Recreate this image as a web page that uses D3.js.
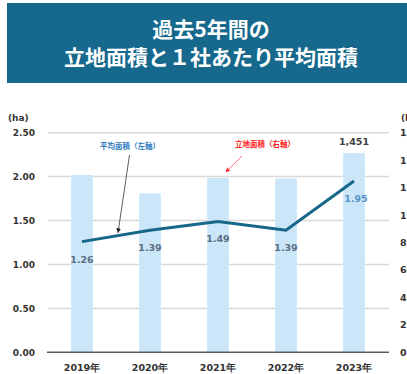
<html>
<head>
    <meta charset="utf-8">
    <style>
        body {
            margin: 0;
            background: white;
        }
        svg {
            display: block;
        }
        .tick-label {
            font-family: "DejaVu Sans", Verdana, sans-serif;
            font-weight: bold;
            font-size: 9px;
            fill: #333333;
        }
        .jp {
            font-family: "Noto Sans CJK JP", sans-serif;
        }
    </style>
    <script src="https://cdn.jsdelivr.net/npm/d3@7"></script>
</head>
<body>
    <svg id="chart"></svg>
</body>
<script>
    // data
    let titleLines = ["過去5年間の", "立地面積と１社あたり平均面積"]
    let years = ["2019年", "2020年", "2021年", "2022年", "2023年"]
    let siteArea = [1292, 1158, 1270, 1266, 1451]      // 立地面積 (右軸, ha)
    let avgArea = [1.26, 1.39, 1.49, 1.39, 1.95]        // 平均面積 (左軸, ha)
    let leftTicks = [0, 0.5, 1.0, 1.5, 2.0, 2.5]
    let rightTicks = [0, 200, 400, 600, 800, 1000, 1200, 1400, 1600]
    let avgLabel = "平均面積（左軸）"
    let siteLabel = "立地面積（右軸）"

    let width = 407
    let height = 374
    let margin = { top: 132.7, bottom: 21.7, left: 48, right: 19 }

    let svg = d3.select("#chart")
        .attr("width", width)
        .attr("height", height)

    // title box
    svg.append("rect")
        .attr("x", 7).attr("y", 3)
        .attr("width", 400).attr("height", 80)
        .attr("fill", "#16698d")
    svg.append("text")
        .attr("class", "jp")
        .attr("text-anchor", "middle")
        .attr("fill", "white")
        .style("font-size", "21px")
        .style("font-weight", "bold")
        .selectAll("tspan").data(titleLines).enter().append("tspan")
        .attr("x", 211)
        .attr("y", (d, i) => 37 + i * 28)
        .text(d => d)

    let x = d3.scaleBand()
        .domain(years)
        .range([margin.left, width - margin.right])
        .paddingInner(0.68)
        .paddingOuter(0.34)
    let yLeft = d3.scaleLinear().domain([0, 2.5]).range([height - margin.bottom, margin.top])
    let yRight = d3.scaleLinear().domain([0, 1600]).range([height - margin.bottom, margin.top])

    // gridlines
    svg.append("g")
        .selectAll("line").data(leftTicks.slice(1)).enter().append("line")
        .attr("x1", margin.left).attr("x2", width - margin.right + 1)
        .attr("y1", d => yLeft(d)).attr("y2", d => yLeft(d))
        .attr("stroke", "#d9d9d9")
        .attr("stroke-width", 1.5)

    // bars
    svg.append("g")
        .selectAll("rect").data(siteArea).enter().append("rect")
        .attr("x", (d, i) => x(years[i]))
        .attr("width", x.bandwidth())
        .attr("y", d => yRight(d))
        .attr("height", d => yRight(0) - yRight(d))
        .attr("fill", "#cbe6f8")

    // baseline
    svg.append("line")
        .attr("x1", margin.left - 1).attr("x2", width - margin.right + 1)
        .attr("y1", yLeft(0)).attr("y2", yLeft(0))
        .attr("stroke", "#5a5a5a")
        .attr("stroke-width", 1.5)

    // left axis
    let axisL = d3.axisLeft(yLeft).tickValues(leftTicks).tickFormat(d3.format(".2f")).tickSize(0).tickPadding(13)
    let gL = svg.append("g")
        .attr("transform", `translate(${margin.left},0)`)
        .call(axisL)
    gL.select(".domain").remove()
    gL.selectAll("text").attr("class", "tick-label").attr("fill", null)

    // right axis (cut off by the picture edge, as in the original)
    let axisR = d3.axisRight(yRight).tickValues(rightTicks).tickFormat(d3.format(",")).tickSize(0).tickPadding(12)
    let gR = svg.append("g")
        .attr("transform", `translate(${width - margin.right},0)`)
        .call(axisR)
    gR.select(".domain").remove()
    gR.selectAll("text").attr("class", "tick-label").attr("fill", null)
        .style("font-size", "9.5px")

    // x axis
    let axisX = d3.axisBottom(x).tickSize(0).tickPadding(12)
    let gX = svg.append("g")
        .attr("transform", `translate(0,${yLeft(0)})`)
        .call(axisX)
    gX.select(".domain").remove()
    gX.selectAll("text").attr("class", "tick-label").attr("fill", null)
        .style("font-size", "9.5px")

    // unit labels
    svg.append("text").attr("class", "tick-label").attr("x", 8).attr("y", 121).text("(ha)")
    svg.append("text").attr("class", "tick-label").attr("x", width - margin.right + 13).attr("y", 121).text("(ha)")

    // line
    let line = d3.line()
        .x((d, i) => x(years[i]) + x.bandwidth() / 2)
        .y(d => yLeft(d))
    svg.append("path")
        .datum(avgArea)
        .attr("d", line)
        .attr("fill", "none")
        .attr("stroke", "#17678a")
        .attr("stroke-width", 3)

    // line labels
    svg.append("g")
        .selectAll("text").data(avgArea).enter().append("text")
        .attr("class", "tick-label")
        .attr("text-anchor", "middle")
        .attr("x", (d, i) => x(years[i]) + x.bandwidth() / 2 + (i == 4 ? 2 : 0))
        .attr("y", d => yLeft(d) + 21)
        .style("fill", (d, i) => i == 4 ? "#5792c4" : "#5b6f82")
        .style("font-size", "9.5px")
        .text(d => d.toFixed(2))

    // bar label for last year
    let last = siteArea.length - 1
    svg.append("text")
        .attr("class", "tick-label")
        .attr("text-anchor", "middle")
        .attr("x", x(years[last]) + x.bandwidth() / 2)
        .attr("y", yRight(siteArea[last]) - 8)
        .style("fill", "#404040")
        .style("font-size", "9.5px")
        .text(d3.format(",")(siteArea[last]))

    // arrow markers
    let defs = svg.append("defs")
    let markers = [["arrBlack", "#222222"], ["arrRed", "#ff2020"]]
    markers.forEach(m => {
        defs.append("marker")
            .attr("id", m[0])
            .attr("viewBox", "0 0 10 10")
            .attr("refX", 9).attr("refY", 5)
            .attr("markerWidth", 6).attr("markerHeight", 6)
            .attr("orient", "auto")
            .append("path").attr("d", "M0,0 L10,5 L0,10 z").attr("fill", m[1])
    })

    // annotation: 平均面積
    let t = 0.53
    let tipX = x(years[0]) + x.bandwidth() / 2 + t * x.step()
    let tipY = yLeft(avgArea[0] + t * (avgArea[1] - avgArea[0])) - 3
    svg.append("text")
        .attr("class", "jp")
        .attr("x", 130).attr("y", 149)
        .attr("text-anchor", "middle")
        .style("font-size", "7.5px")
        .style("font-weight", "bold")
        .attr("fill", "#2f7bbd")
        .text(avgLabel)
    svg.append("line")
        .attr("x1", 129.5).attr("y1", 155)
        .attr("x2", tipX).attr("y2", tipY)
        .attr("stroke", "#333333")
        .attr("stroke-width", 0.8)
        .attr("marker-end", "url(#arrBlack)")

    // annotation: 立地面積
    let barTipX = x(years[2]) + x.bandwidth() - 3
    let barTipY = yRight(siteArea[2]) - 6
    svg.append("text")
        .attr("class", "jp")
        .attr("x", 265).attr("y", 147)
        .attr("text-anchor", "middle")
        .style("font-size", "7.5px")
        .style("font-weight", "bold")
        .attr("fill", "#ff2020")
        .text(siteLabel)
    svg.append("line")
        .attr("x1", 242).attr("y1", 156)
        .attr("x2", barTipX).attr("y2", barTipY)
        .attr("stroke", "#ff5050")
        .attr("stroke-width", 0.8)
        .attr("marker-end", "url(#arrRed)")
</script>
</html>
